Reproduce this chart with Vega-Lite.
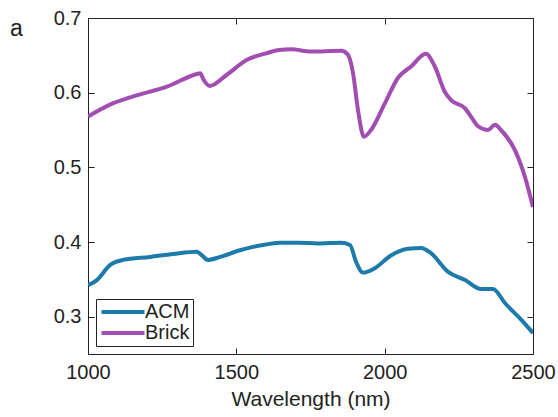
{
  "$schema": "https://vega.github.io/schema/vega-lite/v6.json",
  "width": 445,
  "height": 336,
  "autosize": {"type": "none"},
  "padding": {"left": 88, "top": 18, "right": 25, "bottom": 63},
  "background": "white",
  "title": {"text": "a", "anchor": "start", "frame": "group", "dx": -78, "dy": 2.5, "offset": -48, "baseline": "alphabetic", "fontSize": 23, "fontWeight": "normal", "font": "Liberation Sans", "color": "#222"},
  "config": {
    "view": {"stroke": "#222", "strokeWidth": 1},
    "font": "Liberation Sans"
  },
  "data": {"values": [
    {"wl": 1000, "r": 0.568, "m": "Brick"},
    {"wl": 1074, "r": 0.584, "m": "Brick"},
    {"wl": 1152, "r": 0.595, "m": "Brick"},
    {"wl": 1266, "r": 0.608, "m": "Brick"},
    {"wl": 1367, "r": 0.625, "m": "Brick"},
    {"wl": 1378, "r": 0.626, "m": "Brick"},
    {"wl": 1390, "r": 0.617, "m": "Brick"},
    {"wl": 1411, "r": 0.609, "m": "Brick"},
    {"wl": 1468, "r": 0.624, "m": "Brick"},
    {"wl": 1536, "r": 0.644, "m": "Brick"},
    {"wl": 1603, "r": 0.653, "m": "Brick"},
    {"wl": 1645, "r": 0.657, "m": "Brick"},
    {"wl": 1685, "r": 0.658, "m": "Brick"},
    {"wl": 1752, "r": 0.655, "m": "Brick"},
    {"wl": 1853, "r": 0.656, "m": "Brick"},
    {"wl": 1876, "r": 0.651, "m": "Brick"},
    {"wl": 1893, "r": 0.627, "m": "Brick"},
    {"wl": 1910, "r": 0.577, "m": "Brick"},
    {"wl": 1930, "r": 0.541, "m": "Brick"},
    {"wl": 1954, "r": 0.550, "m": "Brick"},
    {"wl": 2001, "r": 0.586, "m": "Brick"},
    {"wl": 2045, "r": 0.620, "m": "Brick"},
    {"wl": 2089, "r": 0.635, "m": "Brick"},
    {"wl": 2139, "r": 0.652, "m": "Brick"},
    {"wl": 2169, "r": 0.635, "m": "Brick"},
    {"wl": 2203, "r": 0.601, "m": "Brick"},
    {"wl": 2224, "r": 0.590, "m": "Brick"},
    {"wl": 2271, "r": 0.579, "m": "Brick"},
    {"wl": 2291, "r": 0.568, "m": "Brick"},
    {"wl": 2315, "r": 0.555, "m": "Brick"},
    {"wl": 2348, "r": 0.550, "m": "Brick"},
    {"wl": 2372, "r": 0.557, "m": "Brick"},
    {"wl": 2392, "r": 0.550, "m": "Brick"},
    {"wl": 2439, "r": 0.523, "m": "Brick"},
    {"wl": 2473, "r": 0.487, "m": "Brick"},
    {"wl": 2500, "r": 0.447, "m": "Brick"},
    {"wl": 1000, "r": 0.342, "m": "ACM"},
    {"wl": 1030, "r": 0.349, "m": "ACM"},
    {"wl": 1074, "r": 0.369, "m": "ACM"},
    {"wl": 1118, "r": 0.376, "m": "ACM"},
    {"wl": 1209, "r": 0.380, "m": "ACM"},
    {"wl": 1287, "r": 0.384, "m": "ACM"},
    {"wl": 1367, "r": 0.387, "m": "ACM"},
    {"wl": 1384, "r": 0.382, "m": "ACM"},
    {"wl": 1404, "r": 0.376, "m": "ACM"},
    {"wl": 1445, "r": 0.380, "m": "ACM"},
    {"wl": 1512, "r": 0.389, "m": "ACM"},
    {"wl": 1590, "r": 0.396, "m": "ACM"},
    {"wl": 1645, "r": 0.399, "m": "ACM"},
    {"wl": 1708, "r": 0.399, "m": "ACM"},
    {"wl": 1775, "r": 0.398, "m": "ACM"},
    {"wl": 1853, "r": 0.399, "m": "ACM"},
    {"wl": 1883, "r": 0.396, "m": "ACM"},
    {"wl": 1903, "r": 0.374, "m": "ACM"},
    {"wl": 1927, "r": 0.359, "m": "ACM"},
    {"wl": 1967, "r": 0.365, "m": "ACM"},
    {"wl": 2021, "r": 0.382, "m": "ACM"},
    {"wl": 2079, "r": 0.391, "m": "ACM"},
    {"wl": 2123, "r": 0.392, "m": "ACM"},
    {"wl": 2156, "r": 0.385, "m": "ACM"},
    {"wl": 2214, "r": 0.360, "m": "ACM"},
    {"wl": 2271, "r": 0.349, "m": "ACM"},
    {"wl": 2325, "r": 0.337, "m": "ACM"},
    {"wl": 2365, "r": 0.337, "m": "ACM"},
    {"wl": 2406, "r": 0.318, "m": "ACM"},
    {"wl": 2460, "r": 0.296, "m": "ACM"},
    {"wl": 2500, "r": 0.278, "m": "ACM"}
  ]},
  "resolve": {"axis": {"x": "independent", "y": "independent"}},
  "layer": [
    {
      "mark": {"type": "line", "strokeWidth": 4, "interpolate": "monotone", "clip": true},
      "encoding": {
        "x": {"field": "wl", "type": "quantitative",
          "scale": {"domain": [1000, 2500], "nice": false, "zero": false},
          "axis": {"title": "Wavelength (nm)", "values": [1000, 1500, 2000, 2500], "format": "d", "grid": false,
            "domain": false, "offset": -6, "ticks": true, "tickSize": 6, "tickWidth": 1, "tickColor": "#222", "tickOpacity": 1, "labelPadding": 8,
            "labelFontSize": 20, "labelColor": "#222", "labelFlush": false, "titleFontSize": 21, "titleFontWeight": "normal",
            "titleColor": "#222", "titlePadding": 6}},
        "y": {"field": "r", "type": "quantitative",
          "scale": {"domain": [0.25, 0.7], "nice": false, "zero": false},
          "axis": {"title": null, "values": [0.3, 0.4, 0.5, 0.6, 0.7], "format": ".1f", "grid": false,
            "domain": false, "offset": -6, "ticks": true, "tickSize": 6, "tickWidth": 1, "tickColor": "#222", "tickOpacity": 1, "labelPadding": 7,
            "labelFontSize": 20, "labelColor": "#222", "labelFlush": false}},
        "color": {"field": "m", "type": "nominal",
          "scale": {"domain": ["ACM", "Brick"], "range": ["#1c7bab", "#a24db1"]},
          "legend": {"title": null, "orient": "bottom-left", "offset": 8, "symbolType": "M-4.3,0H4.3",
            "symbolSize": 100, "symbolStrokeWidth": 4, "symbolOffset": 14, "labelFontSize": 20, "labelColor": "#222",
            "labelAlign": "left", "strokeColor": "#222", "fillColor": "white", "padding": 3, "rowPadding": 1,
            "labelOffset": 12, "labelLimit": 200}}
      }
    },
    {
      "mark": {"type": "line", "opacity": 0},
      "encoding": {
        "x": {"field": "wl", "type": "quantitative",
          "axis": {"orient": "top", "title": null, "values": [1000, 1500, 2000, 2500], "labels": false, "grid": false,
            "domain": false, "offset": -6, "ticks": true, "tickSize": 6, "tickWidth": 1, "tickColor": "#222", "tickOpacity": 1}},
        "y": {"field": "r", "type": "quantitative",
          "axis": {"orient": "right", "title": null, "values": [0.3, 0.4, 0.5, 0.6, 0.7], "labels": false, "grid": false,
            "domain": false, "offset": -6, "ticks": true, "tickSize": 6, "tickWidth": 1, "tickColor": "#222", "tickOpacity": 1}},
        "detail": {"field": "m", "type": "nominal"}
      }
    }
  ]
}
